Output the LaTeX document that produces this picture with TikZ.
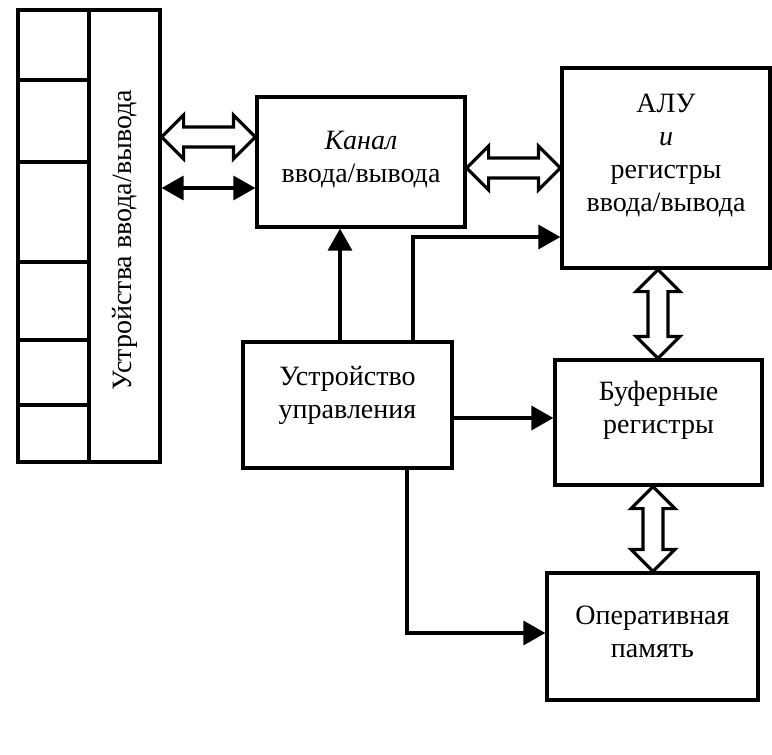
\documentclass[tikz,border=0pt]{standalone}
\usepackage{fontspec}
\setmainfont{Liberation Serif}
\usetikzlibrary{calc,arrows.meta}
\newcommand\ahl{22pt}
\newcommand\ahw{22pt}
\newcommand\ash{10pt}
\tikzset{
  box/.style={draw, line width=3.2pt, rectangle, inner sep=0pt},
  txt/.style={align=center, inner sep=0pt, font=\fontsize{28}{33}\selectfont},
  conn/.style={line width=3.2pt, -{Triangle[length=22pt,width=24pt]}},
  bothconn/.style={line width=3.2pt, {Triangle[length=22pt,width=24pt]}-{Triangle[length=22pt,width=24pt]}},
  hollow/.style={draw, line width=3.2pt, fill=white, line join=miter, to path={
    -- ($(\tikztostart)!\ahl!(\tikztotarget)!\ahw!90:(\tikztotarget)$)
    -- ($(\tikztostart)!\ahl!(\tikztotarget)!\ash!90:(\tikztotarget)$)
    -- ($(\tikztotarget)!\ahl!(\tikztostart)!\ash!-90:(\tikztostart)$)
    -- ($(\tikztotarget)!\ahl!(\tikztostart)!\ahw!-90:(\tikztostart)$)
    -- (\tikztotarget)
    -- ($(\tikztotarget)!\ahl!(\tikztostart)!\ahw!90:(\tikztostart)$)
    -- ($(\tikztotarget)!\ahl!(\tikztostart)!\ash!90:(\tikztostart)$)
    -- ($(\tikztostart)!\ahl!(\tikztotarget)!\ash!-90:(\tikztotarget)$)
    -- ($(\tikztostart)!\ahl!(\tikztotarget)!\ahw!-90:(\tikztotarget)$)
    -- cycle}}
}
\begin{document}
\begin{tikzpicture}[x=1pt,y=-1pt]
\useasboundingbox (0,0) rectangle (772,755);
% boxes
\node[box, minimum width=71pt, minimum height=452pt] (cells) at (53.5,236) {};
\node[box, minimum width=71pt, minimum height=452pt] (dev) at (124.5,236) {};
\node[box, minimum width=208pt, minimum height=130pt] (kanal) at (361,162) {};
\node[box, minimum width=208pt, minimum height=200pt] (alu) at (666,168) {};
\node[box, minimum width=209pt, minimum height=126pt] (ctrl) at (347.5,405) {};
\node[box, minimum width=207pt, minimum height=125pt] (buf) at (658.5,422.5) {};
\node[box, minimum width=211pt, minimum height=127pt] (ram) at (652.5,636.5) {};
% cell dividers
\foreach \yy in {80,162,262,340,405}
  \draw[line width=3.2pt] (cells.west |- 0,\yy) -- (cells.east |- 0,\yy);
% texts
\node[txt, rotate=90] (devt) at (125,240) {Устройства ввода/вывода};
\node[txt] (kanalt) at (361,160) {\textit{Канал}\\ввода/вывода};
\node[txt] (alut) at (666,155) {АЛУ\\\textit{и}\\регистры\\ввода/вывода};
\node[txt] (ctrlt) at (347.5,395) {Устройство\\управления};
\node[txt] (buft) at (658.5,410) {Буферные\\регистры};
\node[txt] (ramt) at (652.5,632) {Оперативная\\память};
% hollow arrows
\draw[hollow] (dev.east |- 0,137) to (kanal.west |- 0,137);
\draw[hollow] (kanal.east |- 0,168) to (alu.west |- 0,168);
\draw[hollow] (alu.south -| 658,0) to (buf.north -| 658,0);
\draw[hollow] (buf.south -| 653,0) to (ram.north -| 653,0);
% filled arrows
\draw[bothconn] (dev.east |- 0,188) -- (kanal.west |- 0,188);
\draw[conn] (ctrl.north -| 340,0) -- (kanal.south -| 340,0);
\draw[conn] (ctrl.north -| 413,0) |- (alu.west |- 0,237);
\draw[conn] (ctrl.east |- 0,418) -- (buf.west |- 0,418);
\draw[conn] (ctrl.south -| 407,0) |- (ram.west |- 0,633);
\end{tikzpicture}
\end{document}
